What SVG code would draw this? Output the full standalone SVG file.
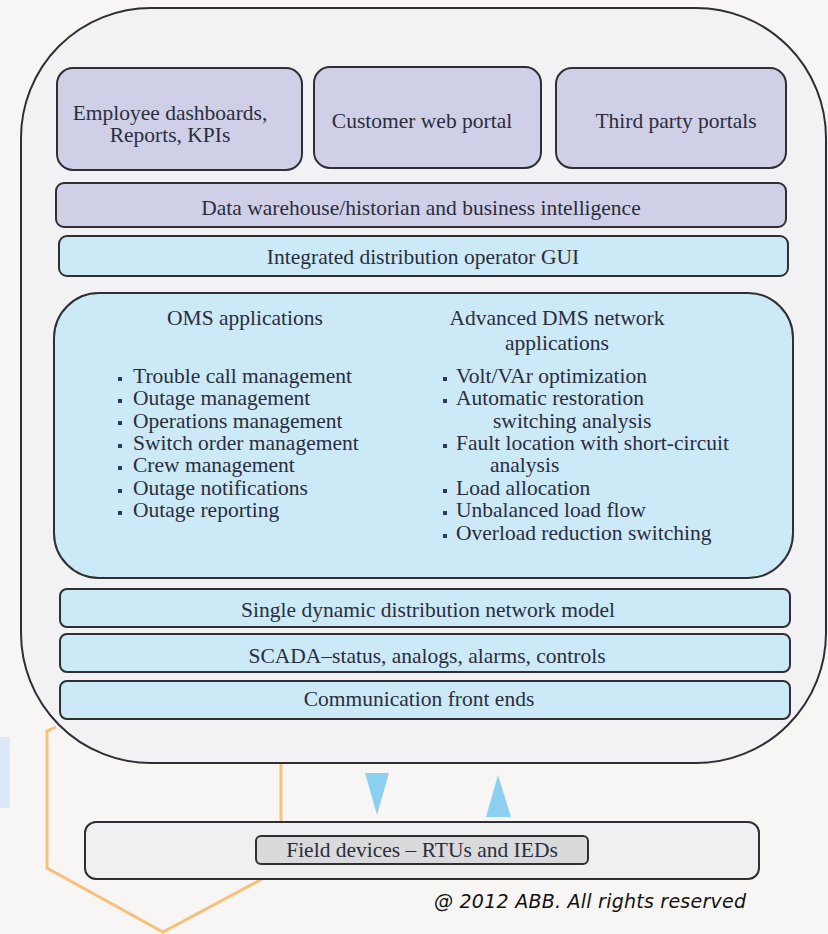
<svg xmlns="http://www.w3.org/2000/svg" width="828" height="934" viewBox="0 0 828 934">
<style>
text{font-family:"Liberation Serif","Times New Roman",serif;fill:#2b2d3c;font-size:21.5px}
.c{text-anchor:middle}
.purple{fill:#cfd0e8;stroke:#2f2f33;stroke-width:2}
.blue{fill:#cce9f8;stroke:#2f2f33;stroke-width:2}
.orange{fill:none;stroke:#f6c17c;stroke-width:3}
.tri{fill:#8ccff0}
.bul{fill:#2b3a5c}
</style>
<rect width="828" height="934" fill="#f8f6f4"/>
<rect x="0" y="737" width="10" height="71" fill="#dce9f6"/>
<g id="connectors">
<polyline class="orange" points="56,727 47,731 47,868 163,932 262,879"/>
<line class="orange" x1="281" y1="760" x2="281" y2="822"/>
</g>
<g id="platform">
<rect x="21" y="8" width="805" height="755" rx="130" ry="130" fill="#f2f2f4" stroke="#2f2f33" stroke-width="2"/>
</g>
<g id="employee">
<rect class="purple" x="57" y="68" width="245" height="102" rx="16"/>
<text class="c" x="170" y="120">Employee dashboards,</text>
<text class="c" x="170" y="142">Reports, KPIs</text>
</g>
<g id="customer">
<rect class="purple" x="314" y="67" width="227" height="101" rx="16"/>
<text class="c" x="422" y="128">Customer web portal</text>
</g>
<g id="thirdparty">
<rect class="purple" x="556" y="68" width="230" height="100" rx="16"/>
<text class="c" x="676" y="128">Third party portals</text>
</g>
<g id="datawarehouse">
<rect class="purple" x="56" y="183" width="730" height="44" rx="8"/>
<text class="c" x="421" y="215">Data warehouse/historian and business intelligence</text>
</g>
<g id="gui">
<rect class="blue" x="59" y="236" width="729" height="40" rx="8"/>
<text class="c" x="423" y="264">Integrated distribution operator GUI</text>
</g>
<g id="applications">
<rect class="blue" x="54" y="293" width="739" height="285" rx="45"/>
<text class="c" x="245" y="325">OMS applications</text>
<g class="bul">
<rect x="118" y="377" width="4" height="4"/>
<rect x="118" y="399" width="4" height="4"/>
<rect x="118" y="421" width="4" height="4"/>
<rect x="118" y="444" width="4" height="4"/>
<rect x="118" y="466" width="4" height="4"/>
<rect x="118" y="489" width="4" height="4"/>
<rect x="118" y="511" width="4" height="4"/>
<rect x="443" y="377" width="4" height="4"/>
<rect x="443" y="399" width="4" height="4"/>
<rect x="443" y="444" width="4" height="4"/>
<rect x="443" y="489" width="4" height="4"/>
<rect x="443" y="511" width="4" height="4"/>
<rect x="443" y="534" width="4" height="4"/>
</g>
<text x="133" y="383">Trouble call management</text>
<text x="133" y="405">Outage management</text>
<text x="133" y="428">Operations management</text>
<text x="133" y="450">Switch order management</text>
<text x="133" y="472">Crew management</text>
<text x="133" y="495">Outage notifications</text>
<text x="133" y="517">Outage reporting</text>
<text class="c" x="557" y="325">Advanced DMS network</text>
<text class="c" x="557" y="350">applications</text>
<text x="456" y="383">Volt/VAr optimization</text>
<text x="456" y="405">Automatic restoration</text>
<text x="493" y="428">switching analysis</text>
<text x="456" y="450">Fault location with short-circuit</text>
<text x="490" y="472">analysis</text>
<text x="456" y="495">Load allocation</text>
<text x="456" y="517">Unbalanced load flow</text>
<text x="456" y="540">Overload reduction switching</text>
</g>
<g id="networkmodel">
<rect class="blue" x="60" y="589" width="730" height="38" rx="7"/>
<text class="c" x="428" y="617">Single dynamic distribution network model</text>
</g>
<g id="scada">
<rect class="blue" x="60" y="634" width="730" height="38" rx="7"/>
<text class="c" x="427" y="663">SCADA–status, analogs, alarms, controls</text>
</g>
<g id="frontends">
<rect class="blue" x="60" y="681" width="730" height="38" rx="7"/>
<text class="c" x="419" y="706">Communication front ends</text>
</g>
<g id="arrows">
<polygon class="tri" points="365,773 389,773 377,815"/>
<polygon class="tri" points="486,817 511,817 498,775"/>
</g>
<g id="fielddevices">
<rect x="85" y="822" width="674" height="57" rx="11" fill="#f0f0f2" stroke="#2f2f33" stroke-width="2"/>
<rect x="256" y="836" width="332" height="28" rx="5" fill="#d9dadc" stroke="#2f2f33" stroke-width="2"/>
<text class="c" x="422" y="857">Field devices – RTUs and IEDs</text>
</g>
<text x="434" y="908" textLength="312" style="font-family:'DejaVu Sans',sans-serif;fill:#111;font-size:19px;font-style:italic">@ 2012 ABB. All rights reserved</text>
</svg>
